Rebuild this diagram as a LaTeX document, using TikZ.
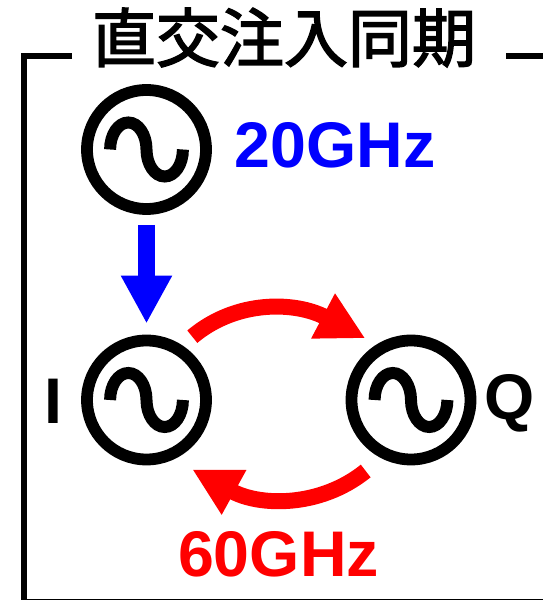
\documentclass[tikz,border=0pt]{standalone}
\usepackage{fontspec}
\setmainfont{Liberation Sans}
\newfontfamily\cjk[FakeBold=2.2]{Noto Sans CJK JP}
\usetikzlibrary{arrows.meta,calc}
\begin{document}
\begin{tikzpicture}[x=1pt,y=1pt]
        \tikzstyle{osc}=[circle,draw=black,line width=11.8pt,minimum size=119pt,inner sep=0pt]
        \tikzstyle{wave}=[draw=black,line width=12pt]
        \tikzstyle{frame}=[draw=black,line width=5.5pt]
        \tikzstyle{label}=[font=\fontsize{64.5}{64.5}\bfseries\selectfont,inner sep=0pt]
        \tikzstyle{inject}=[draw=blue,line width=16.2pt,-{Triangle[length=48pt,width=47.8pt]}]
        \tikzstyle{couple}=[draw=red,line width=16pt,-{Triangle[length=47.8pt,width=47.5pt]}]
        \useasboundingbox (0,0) rectangle (543,600);
        % oscillators
        \node [osc] (lo) at (146.5,450.5) {};
        \node [osc] (i) at (146.5,200) {};
        \node [osc] (q) at (411,200) {};
        \foreach \n in {lo,i,q} {
          \path[wave,shift={(\n)}] (-36.4,0) arc[start angle=180,end angle=0,x radius=18.2,y radius=27]
            arc[start angle=180,end angle=360,x radius=18.2,y radius=27];
        }
        % labels
        \node [font=\cjk\fontsize{64}{64}\selectfont,inner sep=0pt] (title) at (284,562.5) {直交注入同期};
        \node [label,text=blue] (lofreq) at (335,455) {20GHz};
        \node [label,text=red] (qfreq) at (278.5,46) {60GHz};
        \node [label] (ilabel) at (53,199) {I};
        \node [label] (qlabel) at (510,197) {Q};
        % frame
        \coordinate (f1) at (72,544);
        \coordinate (f2) at (24.2,544);
        \coordinate (f3) at (24.2,-1.7);
        \coordinate (f4) at (543,-1.7);
        \coordinate (f5) at (506,544);
        \coordinate (f6) at (543,544);
        \path[frame] (f1) -- (f2) -- (f3) -- (f4);
        \path[frame] (f5) -- (f6);
        % arrows
        \path[inject,shorten <=10pt,shorten >=11pt] (lo) -- (i);
        \path[couple] ($(i)+(45.8,63.3)$) .. controls +(44,37) and +(-70,37) .. ($(q)+(-45.7,61.7)$);
        \path[couple] ($(q)+(-45.3,-71)$) .. controls +(-46,-37) and +(67,-37) .. ($(i)+(45.7,-69.3)$);
\end{tikzpicture}
\end{document}
